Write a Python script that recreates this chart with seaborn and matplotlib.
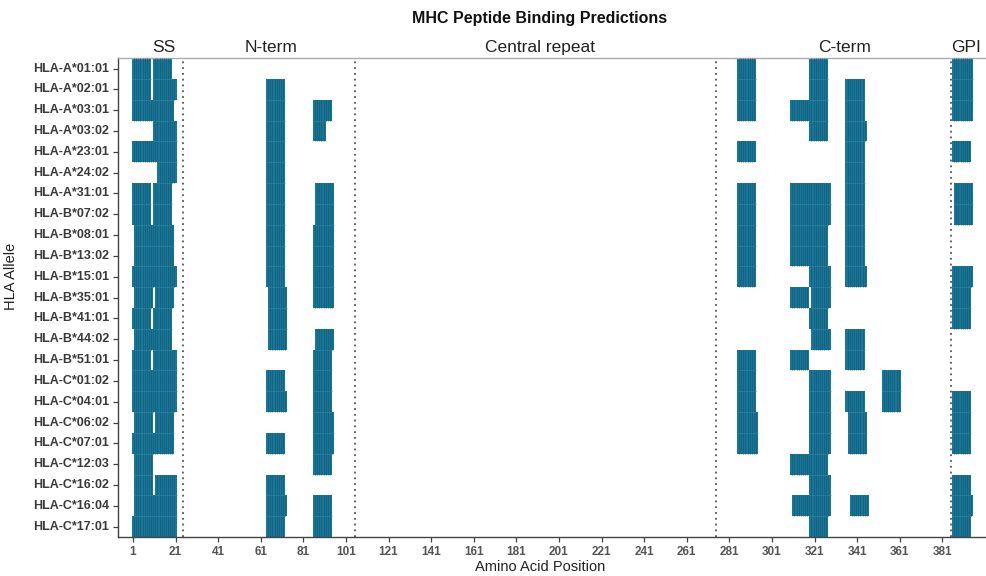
import numpy as np
import pandas as pd
import seaborn as sns
import matplotlib.pyplot as plt
from matplotlib.colors import ListedColormap
import matplotlib.transforms as mtransforms

# ---------------------------------------------------- data ----------------------------------------------------
alleles = ['HLA-A*01:01', 'HLA-A*02:01', 'HLA-A*03:01', 'HLA-A*03:02', 'HLA-A*23:01',
           'HLA-A*24:02', 'HLA-A*31:01', 'HLA-B*07:02', 'HLA-B*08:01', 'HLA-B*13:02',
           'HLA-B*15:01', 'HLA-B*35:01', 'HLA-B*41:01', 'HLA-B*44:02', 'HLA-B*51:01',
           'HLA-C*01:02', 'HLA-C*04:01', 'HLA-C*06:02', 'HLA-C*07:01', 'HLA-C*12:03',
           'HLA-C*16:02', 'HLA-C*16:04', 'HLA-C*17:01']

# predicted binding stretches (first, last residue) per allele, one list per protein region
ss_ranges = [
    [(1, 9), (11, 19)], [(1, 9), (11, 21)], [(1, 20)], [(11, 21)], [(1, 21)],
    [(13, 21)], [(1, 9), (11, 19)], [(1, 9), (11, 19)], [(2, 20)], [(2, 20)],
    [(1, 21)], [(2, 10), (12, 20)], [(1, 9), (11, 19)], [(2, 19)], [(1, 9), (11, 21)],
    [(1, 21)], [(1, 21)], [(2, 10), (12, 20)], [(1, 20)], [(2, 10)],
    [(2, 10), (12, 21)], [(2, 21)], [(1, 21)],
]
nterm_ranges = [
    [], [(64, 72)], [(64, 72), (86, 94)], [(64, 72), (86, 91)], [(64, 72)],
    [(64, 72)], [(64, 72), (87, 95)], [(64, 72), (87, 95)], [(64, 72), (86, 95)], [(64, 72), (86, 95)],
    [(64, 72), (86, 95)], [(65, 73), (86, 95)], [(65, 73)], [(65, 73), (87, 95)], [(86, 94)],
    [(64, 72), (86, 94)], [(64, 73), (86, 94)], [(86, 95)], [(64, 72), (86, 95)], [(86, 94)],
    [(64, 72)], [(64, 73), (86, 94)], [(64, 72), (86, 94)],
]
cterm_ranges = [
    [(285, 293), (319, 327)],
    [(285, 293), (319, 327), (336, 344)],
    [(285, 293), (310, 327), (336, 344)],
    [(319, 327), (336, 345)],
    [(285, 293), (336, 344)],
    [(336, 344)],
    [(285, 293), (310, 328), (336, 344)],
    [(285, 293), (310, 328), (336, 344)],
    [(285, 293), (310, 327), (336, 344)],
    [(285, 293), (310, 327), (336, 344)],
    [(285, 293), (319, 328), (336, 345)],
    [(310, 318), (320, 328)],
    [(319, 327)],
    [(320, 328), (336, 344)],
    [(285, 293), (310, 318), (336, 344)],
    [(285, 293), (319, 328), (353, 361)],
    [(285, 293), (319, 328), (336, 344), (353, 361)],
    [(285, 294), (319, 328), (337, 345)],
    [(285, 294), (319, 328), (337, 345)],
    [(310, 327)],
    [(319, 328)],
    [(311, 328), (338, 346)],
    [(319, 327)],
]
gpi_ranges = [
    [(386, 395)], [(386, 395)], [(386, 395)], [], [(386, 394)],
    [], [(387, 395)], [(387, 395)], [], [],
    [(386, 395)], [(386, 394)], [(386, 394)], [], [],
    [], [(386, 394)], [(386, 394)], [(386, 394)], [],
    [(386, 394)], [(386, 395)], [(386, 394)],
]

region_names = ['SS', 'N-term', 'Central repeat', 'C-term', 'GPI']
region_label_pos = [15.5, 66, 192, 335, 392]
region_bounds = [24.3, 105.2, 274.6, 384.9]
xtick_vals = list(range(1, 382, 20))

# ---------------------------------------------------- plot ----------------------------------------------------
fill = '#1a7495'
edge = '#0d5b78'
plt.rcParams['font.family'] = ['Liberation Sans', 'DejaVu Sans']

positions = np.arange(1, 402)
matrix = np.zeros((len(alleles), len(positions)))
for region in (ss_ranges, nterm_ranges, cterm_ranges, gpi_ranges):
    for i, row in enumerate(region):
        for start, end in row:
            matrix[i, start - 1:end] = 1
df = pd.DataFrame(matrix, index=alleles, columns=positions)

fig, ax = plt.subplots(figsize=(9.87, 5.76), dpi=100)
fig.subplots_adjust(left=0.1196, right=0.998, top=0.899, bottom=0.0677)

# dotted region boundaries behind the tiles
for b in region_bounds:
    ax.axvline(b - 0.5, color='#555555', linestyle=(0, (1, 2.2)), linewidth=1.3, zorder=0)

sns.heatmap(df, mask=(df == 0), cmap=ListedColormap([fill]), vmin=0, vmax=1, cbar=False,
            linewidths=0, ax=ax)

# thin darker stripes between neighbouring residues inside each binding block
rows, cols = np.nonzero(matrix[:, 1:] * matrix[:, :-1])
ax.vlines(cols + 1, rows, rows + 1, colors=edge, linewidth=0.45, zorder=3)
# faint separation between stacked rows
rows_h, cols_h = np.nonzero(matrix[1:, :] * matrix[:-1, :])
ax.hlines(rows_h + 1, cols_h, cols_h + 1, colors='#2f86a6', linewidth=0.5, zorder=3)

ax.set_xlim(-6.5, 400.5)
ax.set_ylim(len(alleles), 0)

# heatmap cell for position p is centred at p - 0.5
ax.set_xticks([p - 0.5 for p in xtick_vals])
ax.set_xticklabels([str(p) for p in xtick_vals], rotation=0, fontsize=8.5,
                   fontweight='bold', color='#555555')
ax.set_yticks(np.arange(len(alleles)) + 0.5)
ax.set_yticklabels(alleles, rotation=0, fontsize=9, fontweight='bold', color='#3a3a3a')
ax.tick_params(axis='both', length=3.5, width=0.9, color='#444444', pad=3)

for side in ['left', 'bottom', 'top']:
    ax.spines[side].set_visible(True)
    ax.spines[side].set_linewidth(1.0)
ax.spines['left'].set_color('#444444')
ax.spines['bottom'].set_color('#444444')
ax.spines['top'].set_color('#aaaaaa')
ax.spines['right'].set_visible(False)

trans = mtransforms.blended_transform_factory(ax.transData, ax.transAxes)
for name, pos in zip(region_names, region_label_pos):
    ax.text(pos - 0.5, 1.006, name, transform=trans, ha='center', va='bottom',
            fontsize=12.5, color='#222222')

ax.set_xlabel('')
ax.set_ylabel('')
fig.text(0.547, 0.968, 'MHC Peptide Binding Predictions', ha='center', va='center',
         fontsize=11.5, fontweight='bold', color='#111111')
fig.text(0.547, 0.016, 'Amino Acid Position', ha='center', va='center', fontsize=10.5,
         color='#222222')
fig.text(0.011, 0.52, 'HLA Allele', ha='center', va='center', rotation=90, fontsize=10.5,
         color='#222222')

plt.savefig('out.png', dpi=100)
